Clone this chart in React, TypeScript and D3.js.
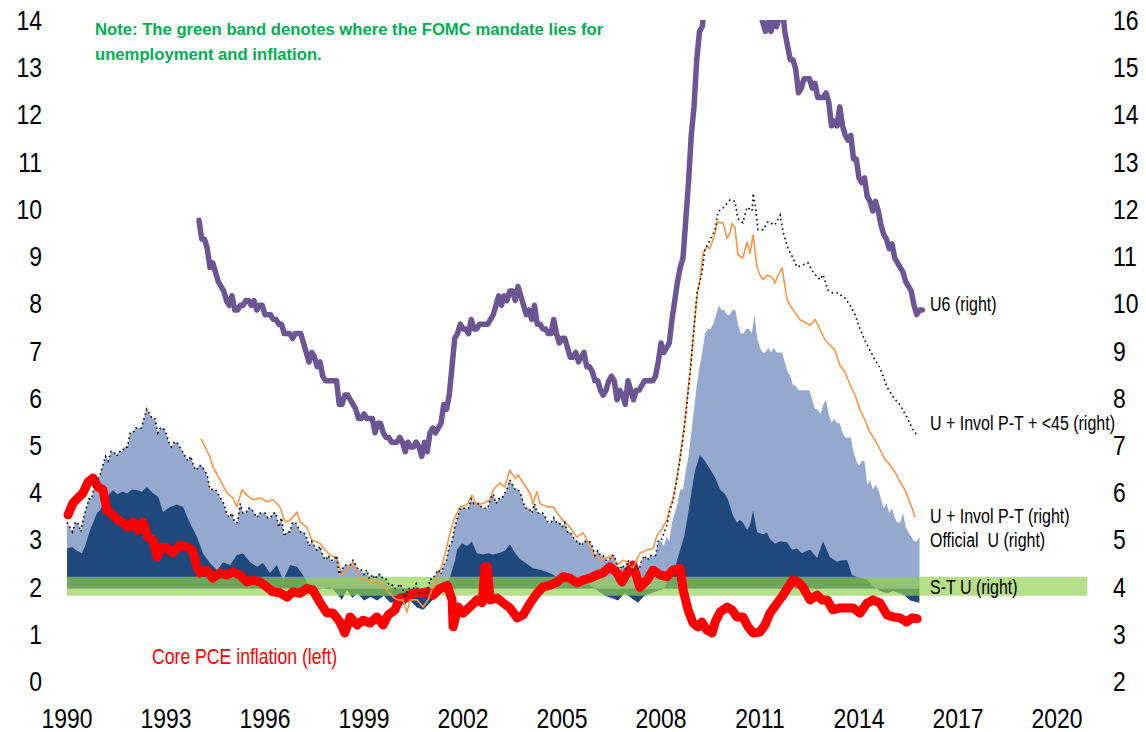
import React from 'react';
import * as d3 from 'd3';

// ---------- DATA ----------
const yearTicks = [1990, 1993, 1996, 1999, 2002, 2005, 2008, 2011, 2014, 2017, 2020];
const leftTicks = [0, 1, 2, 3, 4, 5, 6, 7, 8, 9, 10, 11, 12, 13, 14];
const rightTicks = [2, 3, 4, 5, 6, 7, 8, 9, 10, 11, 12, 13, 14, 15, 16];

// Official unemployment rate (right axis), monthly from Jan 1990
const officialUStart = 1990;
const officialU = [
  5.4, 5.3, 5.2, 5.4, 5.4, 5.2, 5.5, 5.7, 5.9, 5.9, 6.2, 6.3,
  6.4, 6.6, 6.8, 6.7, 6.9, 6.9, 6.8, 6.9, 6.9, 7.0, 7.0, 7.3,
  7.3, 7.4, 7.4, 7.4, 7.6, 7.8, 7.7, 7.6, 7.6, 7.3, 7.4, 7.4,
  7.3, 7.1, 7.0, 7.1, 7.1, 7.0, 6.9, 6.8, 6.7, 6.8, 6.6, 6.5,
  6.6, 6.6, 6.5, 6.4, 6.1, 6.1, 6.1, 6.0, 5.9, 5.8, 5.6, 5.5,
  5.6, 5.4, 5.4, 5.8, 5.6, 5.6, 5.7, 5.7, 5.6, 5.5, 5.6, 5.6,
  5.6, 5.5, 5.5, 5.6, 5.6, 5.3, 5.5, 5.1, 5.2, 5.2, 5.4, 5.4,
  5.3, 5.2, 5.2, 5.1, 4.9, 5.0, 4.9, 4.8, 4.9, 4.7, 4.6, 4.7,
  4.6, 4.6, 4.7, 4.3, 4.4, 4.5, 4.5, 4.5, 4.6, 4.5, 4.4, 4.4,
  4.3, 4.4, 4.2, 4.3, 4.2, 4.3, 4.3, 4.2, 4.2, 4.1, 4.1, 4.0,
  4.0, 4.1, 4.0, 3.8, 4.0, 4.0, 4.0, 4.1, 3.9, 3.9, 3.9, 3.9,
  4.2, 4.2, 4.3, 4.4, 4.3, 4.5, 4.6, 4.9, 5.0, 5.3, 5.5, 5.7,
  5.7, 5.7, 5.7, 5.9, 5.8, 5.8, 5.8, 5.7, 5.7, 5.7, 5.9, 6.0,
  5.8, 5.9, 5.9, 6.0, 6.1, 6.3, 6.2, 6.1, 6.1, 6.0, 5.8, 5.7,
  5.7, 5.6, 5.8, 5.6, 5.6, 5.6, 5.5, 5.4, 5.4, 5.5, 5.4, 5.4,
  5.3, 5.4, 5.2, 5.2, 5.1, 5.0, 5.0, 4.9, 5.0, 5.0, 5.0, 4.9,
  4.7, 4.8, 4.7, 4.7, 4.6, 4.6, 4.7, 4.7, 4.5, 4.4, 4.5, 4.4,
  4.6, 4.5, 4.4, 4.5, 4.4, 4.6, 4.7, 4.6, 4.7, 4.7, 4.7, 5.0,
  5.0, 4.9, 5.1, 5.0, 5.4, 5.6, 5.8, 6.1, 6.1, 6.5, 6.8, 7.3,
  7.8, 8.3, 8.7, 9.0, 9.4, 9.5, 9.5, 9.6, 9.8, 10.0, 9.9, 9.9,
  9.8, 9.8, 9.9, 9.9, 9.6, 9.4, 9.4, 9.5, 9.5, 9.4, 9.8, 9.3,
  9.1, 9.0, 9.0, 9.1, 9.0, 9.1, 9.0, 9.0, 9.0, 8.8, 8.6, 8.5,
  8.3, 8.3, 8.2, 8.2, 8.2, 8.2, 8.2, 8.0, 7.8, 7.8, 7.7, 7.9,
  8.0, 7.7, 7.5, 7.6, 7.5, 7.5, 7.3, 7.2, 7.2, 7.2, 6.9, 6.7,
  6.6, 6.7, 6.7, 6.2, 6.3, 6.1, 6.2, 6.1, 5.9, 5.7, 5.8, 5.6,
  5.7, 5.5, 5.4, 5.4, 5.6, 5.3, 5.2, 5.1, 5.0, 5.0, 5.1,
];

// U6 (right axis), monthly from Jan 1994
const u6Start = 1994;
const u6 = [
  11.8, 11.4, 11.4, 11.2, 10.8, 10.9, 10.7, 10.5, 10.4, 10.3, 10.1, 10.0,
  10.2, 9.9, 9.9, 10.0, 10.0, 10.1, 10.1, 10.0, 10.1, 9.9, 10.0, 10.0,
  9.8, 9.8, 9.8, 9.7, 9.7, 9.6, 9.6, 9.4, 9.4, 9.4, 9.3, 9.4,
  9.4, 9.4, 9.2, 9.0, 8.8, 9.0, 8.9, 8.7, 8.8, 8.5, 8.4, 8.4,
  8.4, 8.4, 8.4, 7.9, 7.9, 8.1, 8.1, 8.0, 7.9, 7.8, 7.6, 7.6,
  7.7, 7.6, 7.6, 7.6, 7.3, 7.5, 7.5, 7.3, 7.2, 7.2, 7.1, 7.1,
  7.1, 7.2, 7.1, 6.9, 7.1, 7.0, 7.0, 7.1, 7.0, 6.8, 7.1, 6.9,
  7.3, 7.4, 7.3, 7.4, 7.5, 7.9, 7.8, 8.1, 8.7, 9.3, 9.4, 9.6,
  9.5, 9.5, 9.4, 9.7, 9.5, 9.5, 9.6, 9.6, 9.6, 9.6, 9.7, 9.8,
  10.0, 10.2, 10.0, 10.2, 10.1, 10.3, 10.3, 10.1, 10.4, 10.2, 10.0, 9.8,
  9.9, 9.7, 10.0, 9.6, 9.6, 9.5, 9.5, 9.4, 9.4, 9.7, 9.4, 9.2,
  9.3, 9.3, 9.1, 8.9, 8.9, 9.0, 8.8, 8.9, 9.0, 8.7, 8.7, 8.6,
  8.4, 8.4, 8.2, 8.1, 8.2, 8.4, 8.5, 8.4, 8.0, 8.2, 8.1, 7.9,
  8.4, 8.2, 8.0, 8.2, 8.2, 8.3, 8.4, 8.4, 8.4, 8.4, 8.5, 8.8,
  9.2, 9.0, 9.1, 9.2, 9.7, 10.1, 10.5, 10.8, 11.0, 11.8, 12.6, 13.6,
  14.2, 15.2, 15.8, 15.9, 16.4, 16.5, 16.4, 16.7, 16.7, 17.1, 17.1, 17.1,
  16.7, 17.0, 17.1, 17.1, 16.6, 16.4, 16.4, 16.5, 16.8, 16.6, 16.9, 16.6,
  16.2, 16.0, 15.8, 16.0, 15.8, 16.1, 15.9, 16.1, 16.4, 15.8, 15.5, 15.2,
  15.2, 15.0, 14.5, 14.6, 14.8, 14.8, 14.8, 14.6, 14.7, 14.4, 14.4, 14.4,
  14.5, 14.3, 13.8, 13.9, 13.8, 14.2, 13.8, 13.6, 13.5, 13.6, 13.1, 13.1,
  12.7, 12.6, 12.7, 12.3, 12.2, 12.0, 12.2, 12.0, 11.7, 11.5, 11.4, 11.2,
  11.3, 11.0, 10.9, 10.8, 10.7, 10.5, 10.4, 10.3, 10.0, 9.8, 9.9, 9.9,
];

// Short-term unemployment (right axis): [year, value]
const shortTermU: [number, number][] = [
  [1990.0, 4.85], [1990.15, 4.88], [1990.3, 4.8], [1990.45, 4.75], [1990.55, 4.9], [1990.7, 5.24],
  [1990.91, 5.6], [1991.0, 5.66], [1991.21, 5.94], [1991.39, 6.09], [1991.52, 6.0], [1991.67, 6.05],
  [1991.82, 6.02], [1991.97, 6.1], [1992.12, 6.09], [1992.27, 6.05], [1992.42, 6.15], [1992.61, 6.02],
  [1992.76, 5.95], [1992.91, 5.62], [1993.12, 5.73], [1993.33, 5.78], [1993.52, 5.73], [1993.64, 5.52],
  [1993.79, 5.3], [1993.94, 5.09], [1994.12, 4.75], [1994.33, 4.54], [1994.55, 4.39], [1994.73, 4.56],
  [1994.94, 4.5], [1995.15, 4.71], [1995.33, 4.75], [1995.55, 4.56], [1995.76, 4.46], [1995.94, 4.54],
  [1996.15, 4.33], [1996.36, 4.5], [1996.55, 4.18], [1996.76, 4.5], [1996.97, 4.46], [1997.15, 4.29],
  [1997.36, 4.03], [1997.58, 3.97], [1997.76, 4.0], [1997.97, 4.03], [1998.18, 3.9], [1998.33, 3.76],
  [1998.48, 3.97], [1998.65, 3.8], [1998.8, 3.9], [1999.0, 3.75], [1999.2, 3.82], [1999.4, 3.75],
  [1999.6, 3.85], [1999.8, 3.7], [2000.0, 3.72], [2000.2, 3.65], [2000.4, 3.75], [2000.6, 3.6],
  [2000.8, 3.55], [2001.0, 3.7], [2001.2, 3.85], [2001.4, 4.0], [2001.52, 4.1], [2001.61, 4.25],
  [2001.76, 4.6], [2001.82, 4.82], [2001.91, 4.9], [2001.97, 4.96], [2002.12, 4.9], [2002.27, 4.99],
  [2002.42, 4.75], [2002.61, 4.72], [2002.76, 4.75], [2002.91, 4.72], [2003.12, 4.76], [2003.27, 4.8],
  [2003.42, 4.94], [2003.58, 4.75], [2003.73, 4.62], [2003.88, 4.55], [2004.12, 4.43], [2004.33, 4.4],
  [2004.55, 4.35], [2004.73, 4.3], [2004.85, 4.22], [2004.94, 4.15], [2005.1, 4.15], [2005.3, 4.1],
  [2005.5, 4.05], [2005.7, 4.12], [2005.9, 4.05], [2006.1, 3.95], [2006.3, 3.85], [2006.5, 3.8],
  [2006.7, 3.75], [2006.9, 3.9], [2007.1, 3.8], [2007.3, 3.7], [2007.5, 3.85], [2007.7, 3.9],
  [2007.9, 3.95], [2008.1, 4.0], [2008.27, 4.25], [2008.45, 4.5], [2008.58, 4.82], [2008.7, 5.1],
  [2008.79, 5.45], [2008.88, 5.85], [2009.03, 6.5], [2009.18, 6.83], [2009.33, 6.7], [2009.48, 6.54],
  [2009.64, 6.35], [2009.79, 6.1], [2009.94, 6.0], [2010.03, 5.88], [2010.18, 5.55], [2010.3, 5.4],
  [2010.39, 5.45], [2010.48, 5.4], [2010.61, 5.24], [2010.7, 5.35], [2010.79, 5.66], [2010.91, 5.2],
  [2011.0, 5.17], [2011.09, 5.15], [2011.21, 5.18], [2011.3, 5.05], [2011.45, 4.95], [2011.61, 5.0],
  [2011.82, 4.98], [2011.97, 4.82], [2012.12, 4.85], [2012.27, 4.75], [2012.42, 4.8], [2012.52, 4.82],
  [2012.73, 4.65], [2012.91, 5.0], [2013.12, 4.67], [2013.33, 4.57], [2013.48, 4.6], [2013.64, 4.6],
  [2013.79, 4.28], [2013.94, 4.25], [2014.09, 4.22], [2014.24, 4.2], [2014.42, 4.05], [2014.64, 3.95],
  [2014.85, 3.9], [2015.03, 3.95], [2015.24, 3.9], [2015.39, 3.85], [2015.55, 3.75], [2015.83, 3.7],
];

// U + Involuntary part-time (right axis)
const uInvolPT: [number, number][] = [
  [1994.06, 7.17], [1994.18, 7.0], [1994.33, 6.79], [1994.42, 6.58], [1994.64, 6.3], [1994.85, 6.02],
  [1995.03, 5.92], [1995.15, 5.73], [1995.3, 6.09], [1995.45, 5.98], [1995.64, 5.88], [1995.85, 5.92],
  [1996.06, 5.84], [1996.24, 5.88], [1996.45, 5.73], [1996.61, 5.41], [1996.76, 5.45], [1996.97, 5.62],
  [1997.06, 5.41], [1997.27, 5.3], [1997.42, 5.03], [1997.67, 4.96], [1997.82, 4.82], [1997.97, 4.71],
  [1998.18, 4.65], [1998.33, 4.29], [1998.48, 4.4], [1998.67, 4.54], [1998.88, 4.22], [1999.09, 4.18],
  [1999.27, 4.14], [1999.48, 4.12], [1999.7, 3.97], [1999.88, 3.82], [2000.03, 3.76], [2000.18, 3.76],
  [2000.3, 3.5], [2000.39, 3.76], [2000.61, 3.76], [2000.79, 3.61], [2000.94, 3.76], [2001.09, 4.03],
  [2001.3, 4.35], [2001.45, 4.71], [2001.61, 5.18], [2001.76, 5.52], [2001.91, 5.73], [2002.12, 5.77],
  [2002.27, 5.98], [2002.42, 5.77], [2002.61, 5.8], [2002.82, 5.88], [2002.91, 6.09], [2003.12, 6.24],
  [2003.27, 6.15], [2003.42, 6.51], [2003.58, 6.33], [2003.67, 6.41], [2003.82, 6.24], [2004.03, 6.02],
  [2004.12, 5.8], [2004.24, 6.05], [2004.33, 5.8], [2004.55, 5.73], [2004.73, 5.73], [2004.85, 5.6],
  [2005.03, 5.45], [2005.24, 5.3], [2005.45, 5.09], [2005.64, 5.18], [2005.76, 5.03], [2005.94, 4.75],
  [2006.15, 4.6], [2006.36, 4.65], [2006.52, 4.71], [2006.67, 4.5], [2006.85, 4.6], [2007.0, 4.56],
  [2007.15, 4.43], [2007.36, 4.75], [2007.58, 4.82], [2007.76, 4.85], [2007.88, 5.13], [2007.97, 5.2],
  [2008.18, 5.45], [2008.27, 5.73], [2008.36, 5.88], [2008.48, 6.35], [2008.58, 6.8], [2008.7, 7.4],
  [2008.79, 8.0], [2008.88, 8.6], [2008.97, 9.3], [2009.09, 10.18], [2009.18, 10.54], [2009.27, 11.1],
  [2009.39, 11.24], [2009.48, 11.2], [2009.64, 11.53], [2009.7, 11.77], [2009.79, 11.75], [2009.88, 11.75],
  [2010.0, 11.42], [2010.09, 11.53], [2010.15, 11.74], [2010.24, 11.66], [2010.33, 11.07], [2010.48, 11.0],
  [2010.61, 11.34], [2010.7, 11.1], [2010.79, 11.49], [2010.91, 10.81], [2011.0, 10.64], [2011.09, 10.54],
  [2011.21, 10.64], [2011.36, 10.6], [2011.45, 10.47], [2011.55, 10.64], [2011.67, 10.79], [2011.76, 10.38],
  [2011.82, 10.11], [2011.91, 10.0], [2012.06, 9.85], [2012.21, 9.7], [2012.36, 9.64], [2012.52, 9.58],
  [2012.67, 9.7], [2012.82, 9.48], [2012.97, 9.27], [2013.12, 9.16], [2013.27, 9.05], [2013.42, 8.73],
  [2013.58, 8.58], [2013.73, 8.31], [2013.88, 8.1], [2014.03, 7.79], [2014.18, 7.57], [2014.33, 7.32],
  [2014.48, 7.15], [2014.64, 6.94], [2014.79, 6.73], [2014.94, 6.62], [2015.09, 6.47], [2015.24, 6.26],
  [2015.39, 6.09], [2015.48, 5.94], [2015.61, 5.7], [2015.7, 5.5],
];

// U + Invol P-T + <45 (right axis): tracks the official rate until 2008, then these readings
const uInvolPT45From = 2008;
const uInvolPT45Late: [number, number][] = [
  [2008.0, 5.0], [2008.18, 5.35], [2008.27, 5.65], [2008.36, 5.85], [2008.48, 6.3], [2008.58, 6.75],
  [2008.7, 7.35], [2008.79, 7.95], [2008.88, 8.55], [2008.97, 9.25], [2009.09, 10.26], [2009.24, 10.68],
  [2009.33, 11.17], [2009.48, 11.38], [2009.64, 11.6], [2009.73, 11.98], [2009.88, 12.06], [2010.09, 12.23],
  [2010.24, 12.2], [2010.33, 11.84], [2010.48, 11.75], [2010.61, 12.08], [2010.76, 12.0], [2010.79, 12.37],
  [2010.85, 12.15], [2010.94, 11.6], [2011.09, 11.6], [2011.24, 11.77], [2011.45, 11.7], [2011.61, 11.91],
  [2011.7, 11.55], [2011.85, 11.2], [2012.0, 11.0], [2012.12, 10.81], [2012.27, 10.85], [2012.45, 10.9],
  [2012.61, 10.7], [2012.82, 10.54], [2012.91, 10.65], [2013.06, 10.32], [2013.21, 10.26], [2013.36, 10.26],
  [2013.58, 10.15], [2013.73, 10.0], [2013.88, 9.8], [2014.03, 9.5], [2014.18, 9.25], [2014.33, 9.05],
  [2014.48, 8.85], [2014.64, 8.67], [2014.85, 8.27], [2015.03, 8.06], [2015.24, 7.89], [2015.45, 7.63],
  [2015.64, 7.36], [2015.76, 7.25],
];

// Core PCE inflation (left axis)
const corePCE: [number, number][] = [
  [1990.03, 3.56], [1990.18, 3.81], [1990.33, 3.92], [1990.48, 4.02], [1990.64, 4.26], [1990.79, 4.34],
  [1990.94, 4.15], [1991.09, 4.09], [1991.21, 3.66], [1991.39, 3.56], [1991.55, 3.45], [1991.7, 3.39],
  [1991.85, 3.3], [1992.0, 3.41], [1992.15, 3.24], [1992.3, 3.41], [1992.45, 3.09], [1992.6, 3.03],
  [1992.73, 2.67], [1992.88, 2.88], [1993.03, 2.86], [1993.21, 2.75], [1993.42, 2.92], [1993.64, 2.88],
  [1993.79, 2.82], [1993.94, 2.46], [1994.03, 2.33], [1994.24, 2.39], [1994.42, 2.22], [1994.64, 2.33],
  [1994.85, 2.29], [1995.03, 2.35], [1995.24, 2.29], [1995.45, 2.14], [1995.64, 2.18], [1995.85, 2.14],
  [1996.06, 2.03], [1996.24, 1.93], [1996.45, 1.91], [1996.67, 1.82], [1996.85, 1.93], [1997.06, 1.9],
  [1997.27, 2.0], [1997.45, 1.97], [1997.67, 1.7], [1997.88, 1.48], [1998.06, 1.48], [1998.27, 1.29],
  [1998.42, 1.06], [1998.58, 1.4], [1998.79, 1.23], [1998.97, 1.33], [1999.18, 1.27], [1999.39, 1.4],
  [1999.58, 1.23], [1999.73, 1.44], [1999.94, 1.55], [2000.09, 1.8], [2000.3, 1.82], [2000.48, 1.9],
  [2000.7, 1.9], [2000.91, 1.93], [2001.09, 1.86], [2001.3, 2.0], [2001.52, 2.07], [2001.67, 1.76],
  [2001.7, 1.19], [2001.85, 1.61], [2002.0, 1.48], [2002.21, 1.61], [2002.42, 1.76], [2002.58, 1.7],
  [2002.67, 2.46], [2002.73, 2.46], [2002.82, 1.76], [2003.03, 1.8], [2003.21, 1.7], [2003.42, 1.59],
  [2003.64, 1.38], [2003.82, 1.44], [2004.03, 1.69], [2004.24, 1.9], [2004.42, 2.03], [2004.64, 2.07],
  [2004.85, 2.14], [2005.03, 2.25], [2005.24, 2.22], [2005.45, 2.12], [2005.64, 2.18], [2005.85, 2.22],
  [2006.06, 2.29], [2006.24, 2.33], [2006.45, 2.46], [2006.67, 2.33], [2006.82, 2.14], [2006.97, 2.33],
  [2007.15, 2.5], [2007.36, 2.03], [2007.58, 2.18], [2007.76, 2.39], [2007.97, 2.29], [2008.18, 2.25],
  [2008.36, 2.39], [2008.58, 2.43], [2008.67, 1.97], [2008.82, 1.55], [2008.97, 1.27], [2009.12, 1.19],
  [2009.24, 1.29], [2009.39, 1.12], [2009.55, 1.06], [2009.64, 1.29], [2009.79, 1.5], [2010.0, 1.61],
  [2010.15, 1.55], [2010.3, 1.4], [2010.48, 1.4], [2010.64, 1.19], [2010.79, 1.06], [2011.0, 1.08],
  [2011.15, 1.23], [2011.3, 1.48], [2011.52, 1.69], [2011.7, 1.86], [2011.85, 2.03], [2012.0, 2.18],
  [2012.15, 2.14], [2012.3, 2.03], [2012.52, 1.76], [2012.73, 1.86], [2012.88, 1.76], [2013.03, 1.76],
  [2013.21, 1.55], [2013.42, 1.59], [2013.64, 1.59], [2013.82, 1.59], [2014.03, 1.48], [2014.24, 1.69],
  [2014.42, 1.76], [2014.64, 1.69], [2014.85, 1.44], [2015.03, 1.4], [2015.24, 1.38], [2015.45, 1.29],
  [2015.61, 1.38], [2015.76, 1.36],
];

// FOMC mandate band (left axis)
const bandYears = [1990, 2020.92];
const bandLow = 1.85;
const bandHigh = 2.25;
const areaBase = 4; // right-axis baseline of the unemployment areas

const legendLabels = [
  { text: 'U6 (right)', value: 10.03 },
  { text: 'U + Invol P-T + <45 (right)', value: 7.5 },
  { text: 'U + Invol P-T (right)', value: 5.54 },
  { text: 'Official  U (right)', value: 5.03 },
  { text: 'S-T U (right)', value: 4.03 },
];
const noteLines = [
  'Note: The green band denotes where the FOMC mandate lies for',
  'unemployment and inflation.',
];
const pceLabel = 'Core PCE inflation (left)';

// ---------- CHART ----------
const FONT = "'Liberation Sans', Arial, Helvetica, sans-serif";

type TP = { x: number; y: number; size: number; anchor?: string; fill?: string; weight?: string | number; sx?: number; children: React.ReactNode };
const NText = ({ x, y, size, anchor = 'start', fill = '#000', weight = 'normal', sx = 0.82, children }: TP) => (
  <text
    transform={`translate(${x},${y}) scale(${sx},1)`}
    textAnchor={anchor as any}
    fontSize={size}
    fontFamily={FONT}
    fontWeight={weight as any}
    fill={fill}
    style={{ whiteSpace: 'pre' }}
  >
    {children}
  </text>
);

export default function App() {
  const W = 1146;
  const H = 732;
  const x = d3.scaleLinear().domain([1990, 2020]).range([67, 1057]);
  const yL = d3.scaleLinear().domain([0, 14]).range([683, 22]);
  const yR = d3.scaleLinear().domain([2, 16]).range([683, 22]);

  const monthly = (start: number, arr: number[]): [number, number][] => arr.map((v, i) => [start + i / 12, v]);
  const uSeries = monthly(officialUStart, officialU);
  const u6Series = monthly(u6Start, u6);
  const dottedSeries: [number, number][] = [
    ...uSeries.filter((d) => d[0] < uInvolPT45From - 0.01),
    ...uInvolPT45Late,
  ];

  const areaR = d3
    .area<[number, number]>()
    .x((d) => x(d[0]))
    .y0(yR(areaBase))
    .y1((d) => yR(d[1]));
  const lineR = d3
    .line<[number, number]>()
    .x((d) => x(d[0]))
    .y((d) => yR(d[1]));
  const lineL = d3
    .line<[number, number]>()
    .x((d) => x(d[0]))
    .y((d) => yL(d[1]));
  const band = d3
    .area<number>()
    .x((d) => x(d))
    .y0(yL(bandLow))
    .y1(yL(bandHigh));

  return (
    <svg
      width={W}
      height={H}
      viewBox={`0 0 ${W} ${H}`}
      style={{ position: 'absolute', left: 0, top: 0, display: 'block', background: '#fff' }}
    >
      <defs>
        <clipPath id="plotClip">
          <rect x={40} y={yL(14) - 2} width={1060} height={700} />
        </clipPath>
      </defs>
      <rect x={0} y={0} width={W} height={H} fill="#fff" />

      <g clipPath="url(#plotClip)">
        <path d={areaR(uSeries) || ''} fill="#95A9CF" />
        <path d={areaR(shortTermU) || ''} fill="#1F497D" />
        <path d={band(bandYears) || ''} fill="#92D050" fillOpacity={0.68} />
        <path
          d={lineL(corePCE) || ''}
          fill="none"
          stroke="#FF0000"
          strokeWidth={9}
          strokeLinejoin="round"
          strokeLinecap="round"
        />
        <path
          d={lineR(u6Series) || ''}
          fill="none"
          stroke="#6B5592"
          strokeWidth={5.5}
          strokeLinejoin="round"
          strokeLinecap="round"
        />
        <path d={lineR(uInvolPT) || ''} fill="none" stroke="#F79646" strokeWidth={1.6} strokeLinejoin="round" />
        <path
          d={lineR(dottedSeries) || ''}
          fill="none"
          stroke="#000"
          strokeWidth={1.6}
          strokeDasharray="1.6 3.2"
        />
      </g>

      {/* left axis labels */}
      {leftTicks.map((t) => (
        <NText key={'l' + t} x={42} y={yL(t) + 8} size={28} anchor="end">
          {String(t)}
        </NText>
      ))}
      {/* right axis labels */}
      {rightTicks.map((t) => (
        <NText key={'r' + t} x={1113} y={yR(t) + 8} size={28} anchor="start">
          {String(t)}
        </NText>
      ))}
      {/* x axis labels */}
      {yearTicks.map((t) => (
        <NText key={'x' + t} x={x(t)} y={728} size={28} anchor="middle">
          {String(t)}
        </NText>
      ))}

      {/* series labels */}
      {legendLabels.map((l) => (
        <NText key={l.text} x={930} y={yR(l.value) + 7} size={19.5}>
          {l.text}
        </NText>
      ))}
      <NText x={152} y={yL(0.57) + 8} size={21.5} fill="#FF0000">
        {pceLabel}
      </NText>

      {/* note */}
      {noteLines.map((n, i) => (
        <NText key={i} x={95} y={35 + i * 25} size={17} fill="#00B050" weight="bold" sx={0.98}>
          {n}
        </NText>
      ))}
    </svg>
  );
}
